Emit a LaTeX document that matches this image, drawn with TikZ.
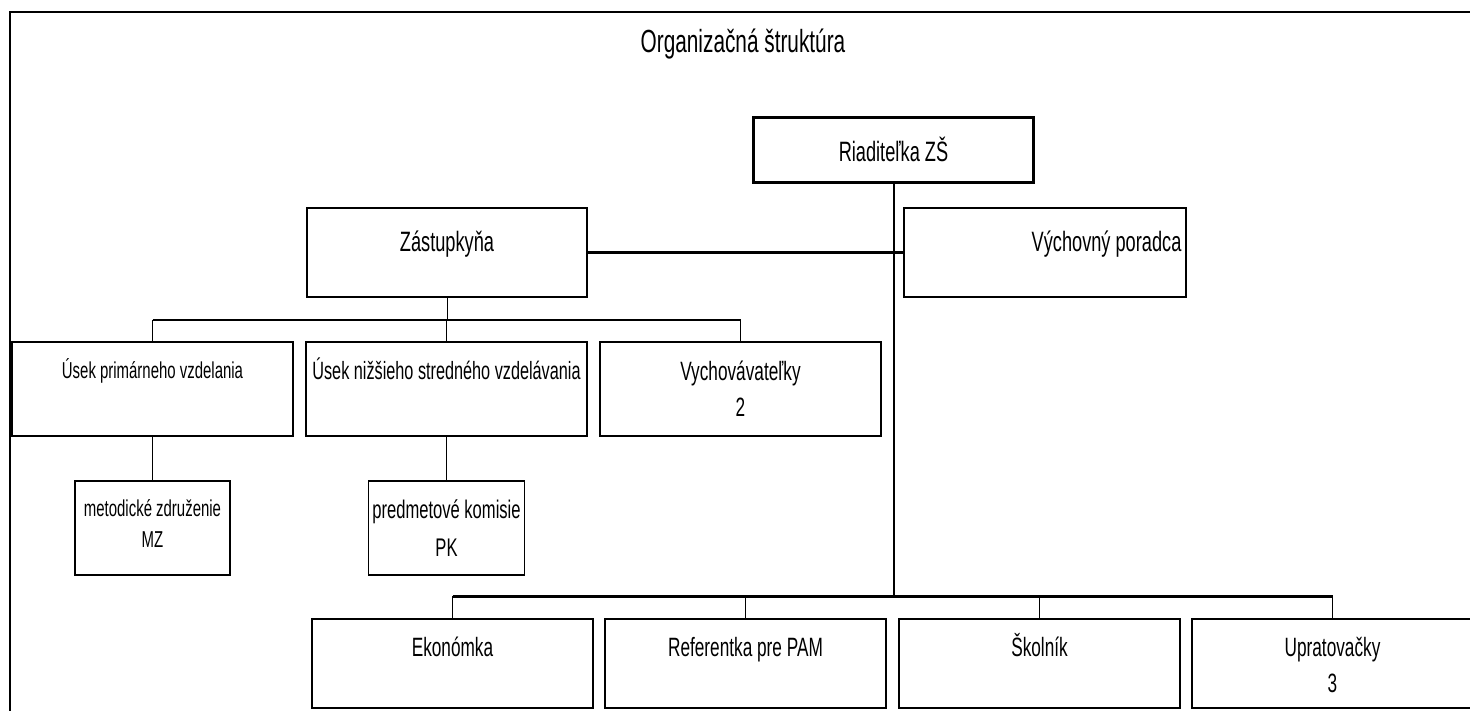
\documentclass[tikz,border=0pt]{standalone}
\usepackage{fontspec}
\setmainfont{Liberation Sans}[FakeStretch=0.65]
\begin{document}
\begin{tikzpicture}[x=1pt, y=-1pt,
  unit/.style={draw, line width=1.2pt, inner sep=0pt, minimum width=281pt, minimum height=89pt},
  boxtext/.style={anchor=base, yshift=-#1, align=center, inner sep=0pt},
  big/.style={font=\fontsize{28}{34}\selectfont},
  mid/.style={font=\fontsize{26.5}{36}\selectfont},
  small/.style={font=\fontsize{23}{31}\selectfont},
  link/.style={line width=1pt},
  bus/.style={line width=2.5pt}]
  \useasboundingbox (0,0) rectangle (1470,710);
  \clip (0,0) rectangle (1470,710);
  \fill[white] (0,0) rectangle (1470,710);
  \draw[line width=2pt] (10,12) rectangle (1490,730);
  \node[font=\fontsize{32}{38}\selectfont, anchor=base] (title) at (743,52) {Organizačná štruktúra};
  % top level
  \node[unit, line width=3pt, minimum width=280pt, minimum height=65pt,
    label={[boxtext=45.5pt, big]north:Riaditeľka ZŠ}] (riad) at (893.5,150) {};
  \node[unit, minimum width=280pt, label={[boxtext=44pt, big]north:Zástupkyňa}] (zast) at (447,252.5) {};
  \node[unit, minimum width=282pt,
    label={[boxtext=44pt, big, anchor=base east, xshift=-5pt]north east:Výchovný poradca}] (vychp) at (1045,252.5) {};
  % second row
  \node[unit, minimum height=94pt, label={[boxtext=37pt, small]north:Úsek primárneho vzdelania}] (usekp) at (152.5,389) {};
  \node[unit, minimum height=94pt,
    label={[boxtext=38pt, font=\fontsize{25}{36}\selectfont]north:Úsek nižšieho stredného vzdelávania}] (useks) at (446.5,389) {};
  \node[unit, minimum height=94pt, label={[boxtext=75pt, mid]north:Vychovávateľky\\2}] (vychov) at (740.5,389) {};
  \node[unit, minimum width=155pt, minimum height=94pt, label={[boxtext=67pt, small]north:metodické združenie\\MZ}] (mz) at (152.5,528) {};
  \node[unit, minimum width=156pt, minimum height=94pt,
    label={[boxtext=76pt, font=\fontsize{25.5}{38}\selectfont]north:predmetové komisie\\PK}] (pk) at (446.5,528) {};
  % bottom row
  \node[unit, label={[boxtext=38pt, mid]north:Ekonómka}] (ekon) at (452.5,663.5) {};
  \node[unit, label={[boxtext=38pt, mid]north:Referentka pre PAM}] (refer) at (745.5,663.5) {};
  \node[unit, label={[boxtext=38pt, mid]north:Školník}] (skol) at (1039.5,663.5) {};
  \node[unit, label={[boxtext=74pt, mid]north:Upratovačky\\3}] (uprat) at (1332.5,663.5) {};
  % connectors
  \coordinate (busz) at (447,320);
  \coordinate (busr) at (893.5,596);
  \draw[line width=2pt] (riad.south) -- (busr);
  \draw[line width=3.5pt] (zast.east) -- (vychp.west);
  \draw[link] (zast.south) -- (busz);
  \draw[bus] (usekp.north |- busz) -- (vychov.north |- busz);
  \foreach \n in {usekp, useks, vychov}
    \draw[link] (\n.north |- busz) -- (\n.north);
  \draw[link] (usekp.south) -- (mz.north);
  \draw[link] (useks.south) -- (pk.north);
  \draw[bus, line width=3pt] (ekon.north |- busr) -- (uprat.north |- busr);
  \foreach \n in {ekon, refer, skol, uprat}
    \draw[link] (\n.north |- busr) -- (\n.north);
\end{tikzpicture}
\end{document}
